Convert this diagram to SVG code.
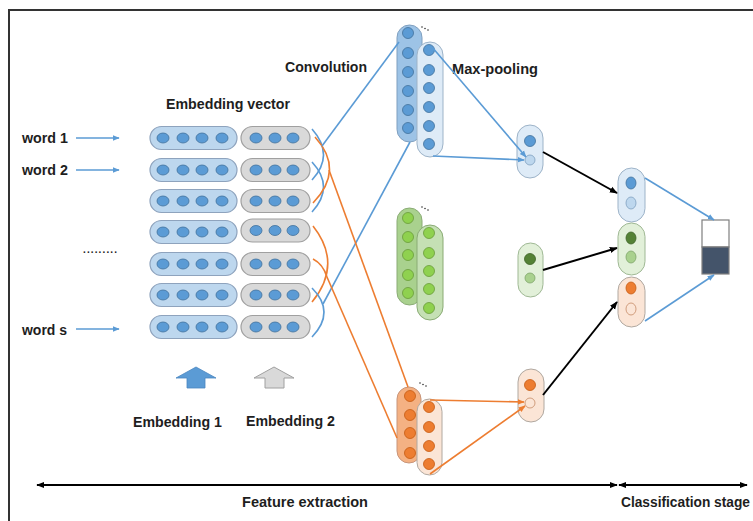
<svg xmlns="http://www.w3.org/2000/svg" width="753" height="521" viewBox="0 0 753 521">
<defs>
<style>
.t{font-family:"Liberation Sans",Arial,sans-serif;font-weight:bold;font-size:14px;fill:#1e1e1e}
.eb{fill:#bdd7ee;stroke:#8ea3bd;stroke-width:1.2}
.eg{fill:#d9d9d9;stroke:#a0a0a0;stroke-width:1.2}
.bc{fill:#5b9bd5;stroke:#41719c;stroke-width:0.8}
.gc{fill:#8fd14f;stroke:#6a9a3a;stroke-width:0.8}
.oc{fill:#ed7d31;stroke:#c55a11;stroke-width:0.8}
.lb{stroke:#5b9bd5;stroke-width:1.6;fill:none}
.lo{stroke:#ed7d31;stroke-width:1.6;fill:none}
.lk{stroke:#000;stroke-width:2;fill:none}
</style>
<marker id="ab" viewBox="0 0 10 10" refX="9" refY="5" markerWidth="7" markerHeight="7" markerUnits="userSpaceOnUse" orient="auto"><path d="M0,1 L10,5 L0,9 z" fill="#5b9bd5"/></marker>
<marker id="ao" viewBox="0 0 10 10" refX="9" refY="5" markerWidth="7" markerHeight="7" markerUnits="userSpaceOnUse" orient="auto"><path d="M0,1 L10,5 L0,9 z" fill="#ed7d31"/></marker>
<marker id="ak" viewBox="0 0 10 10" refX="9" refY="5" markerWidth="8" markerHeight="8" markerUnits="userSpaceOnUse" orient="auto-start-reverse"><path d="M0,1 L10,5 L0,9 z" fill="#000"/></marker>
</defs>
<rect width="753" height="521" fill="#fff"/>
<path d="M9,521 L9,10 L753,10" fill="none" stroke="#333" stroke-width="2"/>

<g id="labels">
<text class="t" x="285" y="72" textLength="82" lengthAdjust="spacingAndGlyphs">Convolution</text>
<text class="t" x="166" y="109" textLength="124" lengthAdjust="spacingAndGlyphs">Embedding vector</text>
<text class="t" x="452" y="74" textLength="86" lengthAdjust="spacingAndGlyphs">Max-pooling</text>
<text class="t" x="22" y="143" textLength="46" lengthAdjust="spacingAndGlyphs">word 1</text>
<text class="t" x="22" y="175" textLength="46" lengthAdjust="spacingAndGlyphs">word 2</text>
<text class="t" x="22" y="335" textLength="45" lengthAdjust="spacingAndGlyphs">word s</text>
<text class="t" x="83" y="253" style="font-size:10px" textLength="34" lengthAdjust="spacing">.........</text>
<text class="t" x="133" y="427" textLength="89" lengthAdjust="spacingAndGlyphs">Embedding 1</text>
<text class="t" x="246" y="426" textLength="89" lengthAdjust="spacingAndGlyphs">Embedding 2</text>
<text class="t" x="242" y="507" textLength="126" lengthAdjust="spacingAndGlyphs">Feature extraction</text>
<text class="t" x="621" y="507" textLength="129" lengthAdjust="spacingAndGlyphs">Classification stage</text>
</g>

<g id="embedding">
<g id="row1" transform="translate(0,138)"><rect class="eb" x="150" y="-11.5" width="87" height="23" rx="11.5"/><ellipse class="bc" cx="163" cy="0" rx="6" ry="5"/><ellipse class="bc" cx="183" cy="0" rx="6" ry="5"/><ellipse class="bc" cx="202" cy="0" rx="6" ry="5"/><ellipse class="bc" cx="222" cy="0" rx="6" ry="5"/><rect class="eg" x="241" y="-11.5" width="69" height="23" rx="11.5"/><ellipse class="bc" cx="256" cy="0" rx="6" ry="5"/><ellipse class="bc" cx="275" cy="0" rx="6" ry="5"/><ellipse class="bc" cx="293" cy="0" rx="6" ry="5"/></g>
<g id="row2" transform="translate(0,170)"><rect class="eb" x="150" y="-11.5" width="87" height="23" rx="11.5"/><ellipse class="bc" cx="163" cy="0" rx="6" ry="5"/><ellipse class="bc" cx="183" cy="0" rx="6" ry="5"/><ellipse class="bc" cx="202" cy="0" rx="6" ry="5"/><ellipse class="bc" cx="222" cy="0" rx="6" ry="5"/><rect class="eg" x="241" y="-11.5" width="69" height="23" rx="11.5"/><ellipse class="bc" cx="256" cy="0" rx="6" ry="5"/><ellipse class="bc" cx="275" cy="0" rx="6" ry="5"/><ellipse class="bc" cx="293" cy="0" rx="6" ry="5"/></g>
<g id="row3" transform="translate(0,201)"><rect class="eb" x="150" y="-11.5" width="87" height="23" rx="11.5"/><ellipse class="bc" cx="163" cy="0" rx="6" ry="5"/><ellipse class="bc" cx="183" cy="0" rx="6" ry="5"/><ellipse class="bc" cx="202" cy="0" rx="6" ry="5"/><ellipse class="bc" cx="222" cy="0" rx="6" ry="5"/><rect class="eg" x="241" y="-11.5" width="69" height="23" rx="11.5"/><ellipse class="bc" cx="256" cy="0" rx="6" ry="5"/><ellipse class="bc" cx="275" cy="0" rx="6" ry="5"/><ellipse class="bc" cx="293" cy="0" rx="6" ry="5"/></g>
<g id="row4" transform="translate(0,232)"><rect class="eb" x="150" y="-11.5" width="87" height="23" rx="11.5"/><ellipse class="bc" cx="163" cy="0" rx="6" ry="5"/><ellipse class="bc" cx="183" cy="0" rx="6" ry="5"/><ellipse class="bc" cx="202" cy="0" rx="6" ry="5"/><ellipse class="bc" cx="222" cy="0" rx="6" ry="5"/><rect class="eg" x="241" y="-13" width="69" height="23" rx="11.5"/><ellipse class="bc" cx="256" cy="-1.5" rx="6" ry="5"/><ellipse class="bc" cx="275" cy="-1.5" rx="6" ry="5"/><ellipse class="bc" cx="293" cy="-1.5" rx="6" ry="5"/></g>
<g id="row5" transform="translate(0,264)"><rect class="eb" x="150" y="-11.5" width="87" height="23" rx="11.5"/><ellipse class="bc" cx="163" cy="0" rx="6" ry="5"/><ellipse class="bc" cx="183" cy="0" rx="6" ry="5"/><ellipse class="bc" cx="202" cy="0" rx="6" ry="5"/><ellipse class="bc" cx="222" cy="0" rx="6" ry="5"/><rect class="eg" x="241" y="-11.5" width="69" height="23" rx="11.5"/><ellipse class="bc" cx="256" cy="0" rx="6" ry="5"/><ellipse class="bc" cx="275" cy="0" rx="6" ry="5"/><ellipse class="bc" cx="293" cy="0" rx="6" ry="5"/></g>
<g id="row6" transform="translate(0,295)"><rect class="eb" x="150" y="-11.5" width="87" height="23" rx="11.5"/><ellipse class="bc" cx="163" cy="0" rx="6" ry="5"/><ellipse class="bc" cx="183" cy="0" rx="6" ry="5"/><ellipse class="bc" cx="202" cy="0" rx="6" ry="5"/><ellipse class="bc" cx="222" cy="0" rx="6" ry="5"/><rect class="eg" x="241" y="-11.5" width="69" height="23" rx="11.5"/><ellipse class="bc" cx="256" cy="0" rx="6" ry="5"/><ellipse class="bc" cx="275" cy="0" rx="6" ry="5"/><ellipse class="bc" cx="293" cy="0" rx="6" ry="5"/></g>
<g id="row7" transform="translate(0,327)"><rect class="eb" x="150" y="-11.5" width="87" height="23" rx="11.5"/><ellipse class="bc" cx="163" cy="0" rx="6" ry="5"/><ellipse class="bc" cx="183" cy="0" rx="6" ry="5"/><ellipse class="bc" cx="202" cy="0" rx="6" ry="5"/><ellipse class="bc" cx="222" cy="0" rx="6" ry="5"/><rect class="eg" x="241" y="-11.5" width="69" height="23" rx="11.5"/><ellipse class="bc" cx="256" cy="0" rx="6" ry="5"/><ellipse class="bc" cx="275" cy="0" rx="6" ry="5"/><ellipse class="bc" cx="293" cy="0" rx="6" ry="5"/></g>
</g>

<g id="emb-arrows">
<path id="arrow-emb1" d="M196,367 L216,378 L205,378 L205,388 L187,388 L187,378 L176,378 Z" fill="#5b9bd5" stroke="#4a86c0" stroke-width="0.8"/>
<path id="arrow-emb2" d="M274,367 L294,378 L284,378 L284,388 L265,388 L265,378 L254,378 Z" fill="#d9d9d9" stroke="#a0a0a0" stroke-width="1"/>
</g>

<g id="conv-blue">
<rect x="397" y="25" width="25" height="117" rx="12.5" fill="#9dc3e6" stroke="#7f9fbf" stroke-width="1"/>
<circle class="bc" cx="408" cy="33" r="5.5"/><circle class="bc" cx="408" cy="53" r="5.5"/><circle class="bc" cx="408" cy="72" r="5.5"/><circle class="bc" cx="408" cy="91" r="5.5"/><circle class="bc" cx="408" cy="110" r="5.5"/><circle class="bc" cx="408" cy="128" r="5.5"/>
<rect x="417" y="42" width="26" height="115" rx="13" fill="#deebf7" stroke="#9db3c8" stroke-width="1"/>
<circle class="bc" cx="429" cy="50" r="5.5"/><circle class="bc" cx="429" cy="70" r="5.5"/><circle class="bc" cx="429" cy="88" r="5.5"/><circle class="bc" cx="429" cy="107" r="5.5"/><circle class="bc" cx="429" cy="126" r="5.5"/><circle class="bc" cx="429" cy="144" r="5.5"/>
<g fill="#333"><circle cx="422" cy="27" r="0.8"/><circle cx="425" cy="28.5" r="0.8"/><circle cx="428" cy="30" r="0.8"/></g>
</g>

<g id="conv-green">
<rect x="397" y="208" width="25" height="97" rx="12.5" fill="#a9d18e" stroke="#8aab75" stroke-width="1"/>
<circle class="gc" cx="408" cy="218" r="5.5"/><circle class="gc" cx="408" cy="237" r="5.5"/><circle class="gc" cx="408" cy="255" r="5.5"/><circle class="gc" cx="408" cy="275" r="5.5"/><circle class="gc" cx="408" cy="293" r="5.5"/>
<rect x="417" y="225" width="26" height="95" rx="13" fill="#c5e0b4" stroke="#8aab75" stroke-width="1"/>
<circle class="gc" cx="429" cy="233" r="5.5"/><circle class="gc" cx="429" cy="253" r="5.5"/><circle class="gc" cx="429" cy="271" r="5.5"/><circle class="gc" cx="429" cy="289" r="5.5"/><circle class="gc" cx="429" cy="308" r="5.5"/>
<g fill="#333"><circle cx="422" cy="207" r="0.8"/><circle cx="425" cy="208.5" r="0.8"/><circle cx="428" cy="210" r="0.8"/></g>
</g>

<g id="conv-orange">
<rect x="397" y="387" width="24" height="76" rx="12" fill="#f4b183" stroke="#c8957a" stroke-width="1"/>
<circle class="oc" cx="410" cy="396" r="5.5"/><circle class="oc" cx="410" cy="415" r="5.5"/><circle class="oc" cx="410" cy="433" r="5.5"/><circle class="oc" cx="410" cy="453" r="5.5"/>
<rect x="417" y="399" width="25" height="76" rx="12.5" fill="#fbe5d6" stroke="#b0a8a0" stroke-width="1"/>
<circle class="oc" cx="429" cy="407" r="5.5"/><circle class="oc" cx="429" cy="427" r="5.5"/><circle class="oc" cx="429" cy="446" r="5.5"/><circle class="oc" cx="429" cy="464" r="5.5"/>
<g fill="#333"><circle cx="420" cy="383" r="0.8"/><circle cx="423" cy="384.5" r="0.8"/><circle cx="426" cy="386" r="0.8"/></g>
</g>

<g id="pool-blue">
<rect x="517" y="125" width="26" height="53" rx="13" fill="#deebf7" stroke="#9db3c8" stroke-width="1"/>
<circle class="bc" cx="530" cy="141" r="5.5"/>
<circle cx="530" cy="160" r="5" fill="#bdd7ee" stroke="#7f9fbf" stroke-width="0.8"/>
</g>
<g id="pool-green">
<rect x="518" y="243" width="25" height="54" rx="12.5" fill="#e2f0d9" stroke="#9fb894" stroke-width="1"/>
<circle cx="530" cy="259" r="5.5" fill="#548235" stroke="#3d6227" stroke-width="0.8"/>
<circle cx="530" cy="278" r="5" fill="#a9d18e" stroke="#7fa56a" stroke-width="0.8"/>
</g>
<g id="pool-orange">
<rect x="518" y="369" width="26" height="53" rx="13" fill="#fbe5d6" stroke="#b0a8a0" stroke-width="1"/>
<circle class="oc" cx="530" cy="385" r="5.5"/>
<circle cx="530" cy="403" r="5" fill="#fbe5d6" stroke="#c58a66" stroke-width="0.8"/>
</g>

<g id="concat">
<rect x="618" y="168" width="27" height="54" rx="13.5" fill="#deebf7" stroke="#9db3c8" stroke-width="1"/>
<ellipse class="bc" cx="631" cy="183" rx="5" ry="6"/>
<ellipse cx="631" cy="203" rx="5" ry="6" fill="#bdd7ee" stroke="#7f9fbf" stroke-width="0.8"/>
<rect x="618" y="223" width="27" height="52" rx="13.5" fill="#e2f0d9" stroke="#9fb894" stroke-width="1"/>
<ellipse cx="631" cy="238" rx="5" ry="6" fill="#548235" stroke="#3d6227" stroke-width="0.8"/>
<ellipse cx="631" cy="257" rx="5" ry="6" fill="#a9d18e" stroke="#7fa56a" stroke-width="0.8"/>
<rect x="618" y="277" width="27" height="50" rx="13.5" fill="#fbe5d6" stroke="#b0a8a0" stroke-width="1"/>
<ellipse class="oc" cx="631" cy="288" rx="5" ry="6"/>
<ellipse cx="631" cy="309" rx="5" ry="6" fill="#fbe5d6" stroke="#c58a66" stroke-width="0.8"/>
</g>

<g id="output">
<rect x="702" y="220" width="27" height="27" fill="#fff" stroke="#7f7f7f" stroke-width="1.2"/>
<rect x="702" y="247" width="27" height="27" fill="#44546a" stroke="#7f7f7f" stroke-width="1.2"/>
</g>

<g id="connectors">
<line class="lb" x1="76" y1="138" x2="119" y2="138" stroke-width="1.4" marker-end="url(#ab)"/>
<line class="lb" x1="76" y1="170" x2="119" y2="170" stroke-width="1.4" marker-end="url(#ab)"/>
<line class="lb" x1="76" y1="329" x2="119" y2="329" stroke-width="1.4" marker-end="url(#ab)"/>
<path class="lb" d="M312,129 Q335,155 312,180"/>
<path class="lb" d="M312,162 Q335,187 312,212"/>
<path class="lo" d="M315,137 Q345,170 313,203"/>
<path class="lo" d="M313,226 Q343,264 312,302"/>
<path class="lo" d="M313,259 Q323,264 327,277"/>
<path class="lb" d="M312,288 Q336,312 312,337"/>
<line class="lb" x1="322" y1="146" x2="399" y2="42"/>
<line class="lb" x1="323" y1="304" x2="410" y2="142"/>
<line class="lo" x1="329" y1="170" x2="408" y2="387"/>
<line class="lo" x1="327" y1="277" x2="397" y2="438"/>
<line class="lb" x1="432" y1="47" x2="526" y2="157" marker-end="url(#ab)"/>
<line class="lb" x1="433" y1="156" x2="524" y2="160" marker-end="url(#ab)"/>
<line class="lo" x1="430" y1="400" x2="524" y2="402" marker-end="url(#ao)"/>
<line class="lo" x1="430" y1="474" x2="525" y2="406" marker-end="url(#ao)"/>
<line class="lk" x1="543" y1="152" x2="617" y2="193" marker-end="url(#ak)"/>
<line class="lk" x1="543" y1="270" x2="617" y2="248" marker-end="url(#ak)"/>
<line class="lk" x1="543" y1="395" x2="617" y2="302" marker-end="url(#ak)"/>
<line class="lb" x1="645" y1="178" x2="714" y2="220" marker-end="url(#ab)"/>
<line class="lb" x1="645" y1="321" x2="714" y2="275" marker-end="url(#ab)"/>
<line class="lk" x1="37" y1="485" x2="617" y2="485" marker-start="url(#ak)" marker-end="url(#ak)"/>
<line class="lk" x1="619" y1="485" x2="747" y2="485" marker-start="url(#ak)" marker-end="url(#ak)"/>
</g>
</svg>
